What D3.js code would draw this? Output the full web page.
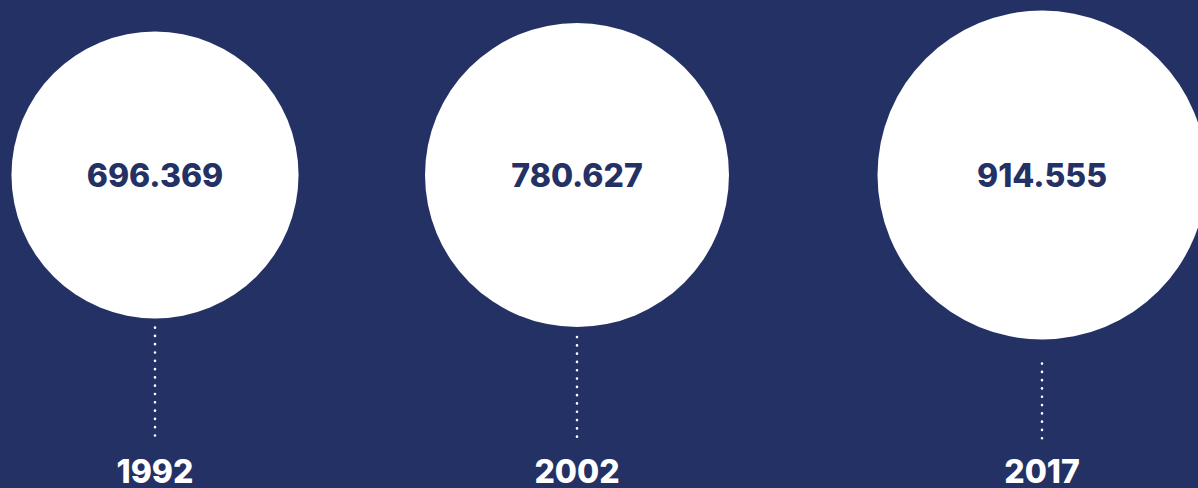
<!DOCTYPE html>
<html>
<head>
<meta charset="utf-8">
<script src="https://cdn.jsdelivr.net/npm/d3@7"></script>
<style>
  html, body { margin: 0; padding: 0; background: #243165; overflow: hidden; }
  svg { display: block; }
</style>
</head>
<body>
<svg id="chart" width="1198" height="488"></svg>
<script>
const years = ["1992", "2002", "2017"];
const values = [696369, 780627, 914555];
const valueLabels = ["696.369", "780.627", "914.555"];

const W = 1198, H = 488;
const bg = "#243165";
const svg = d3.select("#chart");
svg.append("rect").attr("width", W).attr("height", H).attr("fill", bg);

const x = d3.scaleOrdinal().domain(years).range([155, 577, 1042]);
const r = d3.scaleSqrt().domain([0, d3.max(values)]).range([0, 164.5]);
const cy = 175;
const lineGap = [9, 10, 24];
const lineBottom = 440;
const yearBaseline = 483;

const data = years.map((y, i) => ({ year: y, value: values[i], label: valueLabels[i], i }));

const g = svg.selectAll("g.item").data(data).join("g").attr("class", "item");

g.append("circle")
  .attr("cx", d => x(d.year))
  .attr("cy", cy)
  .attr("r", d => r(d.value))
  .attr("fill", "#ffffff");

g.append("text")
  .attr("x", d => x(d.year))
  .attr("y", cy + 12)
  .attr("text-anchor", "middle")
  .attr("font-family", "Inter, 'Open Sans', sans-serif")
  .attr("font-weight", 800)
  .attr("font-size", 32)
  .attr("fill", bg)
  .text(d => d.label);

g.append("line")
  .attr("x1", d => x(d.year))
  .attr("x2", d => x(d.year))
  .attr("y1", d => cy + r(d.value) + lineGap[d.i])
  .attr("y2", lineBottom)
  .attr("stroke", "#ffffff")
  .attr("stroke-width", 2.6)
  .attr("stroke-linecap", "round")
  .attr("stroke-dasharray", "0.1,8.2");

g.append("text")
  .attr("x", d => x(d.year))
  .attr("y", yearBaseline)
  .attr("text-anchor", "middle")
  .attr("font-family", "Inter, 'Open Sans', sans-serif")
  .attr("font-weight", 800)
  .attr("font-size", 32)
  .attr("fill", "#ffffff")
  .text(d => d.year);
</script>
</body>
</html>
